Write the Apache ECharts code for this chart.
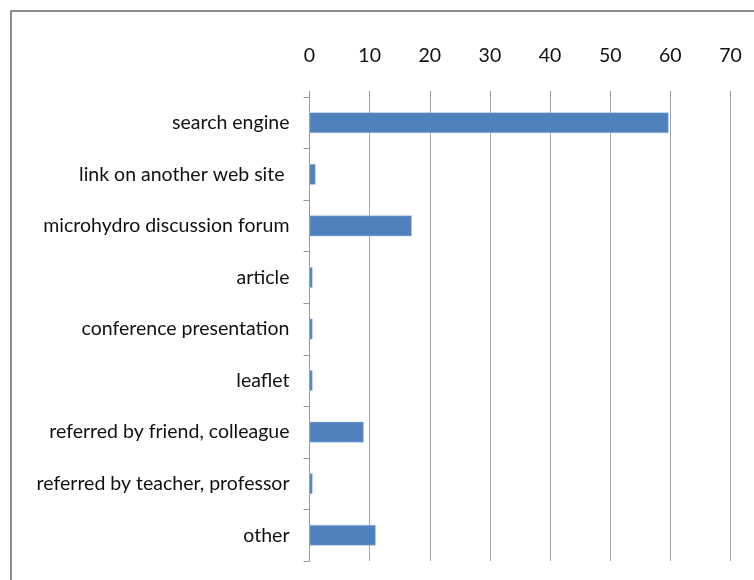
<!DOCTYPE html>
<html><head><meta charset="utf-8">
<script src="https://cdn.jsdelivr.net/npm/echarts@6/dist/echarts.min.js"></script>
<style>html,body{margin:0;padding:0;background:#fff}#c{width:754px;height:580px}</style>
</head><body><div id="c"></div>
<script>
const categories = ["search engine","link on another web site ","microhydro discussion forum","article","conference presentation","leaflet","referred by friend, colleague","referred by teacher, professor","other"];
const values = [59.7, 1, 17, 0.5, 0.5, 0.5, 9, 0.5, 11];
const xTicks = [0, 10, 20, 30, 40, 50, 60, 70];
const FONT = "Lato, 'Open Sans', sans-serif";
const chart = echarts.init(document.getElementById('c'));
chart.setOption({
  animation: false,
  grid: {left: 309.5, top: 97, right: 23.5, bottom: 19},
  xAxis: {
    type: 'value', position: 'top', min: xTicks[0], max: xTicks[xTicks.length-1], interval: 10,
    axisLine: {show: false},
    axisTick: {show: true, length: 6, lineStyle: {color: '#999'}},
    axisLabel: {color: '#111', fontSize: 19.5, fontFamily: FONT, margin: 31},
    splitLine: {show: true, lineStyle: {color: '#a6a6a6', width: 1}}
  },
  yAxis: {
    type: 'category', data: categories, inverse: true,
    axisLine: {show: true, lineStyle: {color: '#999'}},
    axisTick: {show: true, length: 6, lineStyle: {color: '#999'}},
    axisLabel: {color: '#111', fontSize: 19.5, fontFamily: FONT, margin: 20}
  },
  series: [{
    type: 'bar', data: values, barWidth: '40%',
    itemStyle: {color: '#4f81bd', borderColor: '#a9c4e6', borderWidth: 0.5}
  }],
  graphic: [
    {type: 'line', shape: {x1: 10.5, y1: 11, x2: 754, y2: 11}, style: {stroke: '#8c8c8c', lineWidth: 2}},
    {type: 'line', shape: {x1: 11, y1: 11, x2: 11, y2: 580}, style: {stroke: '#8c8c8c', lineWidth: 2}}
  ]
});
</script></body></html>
